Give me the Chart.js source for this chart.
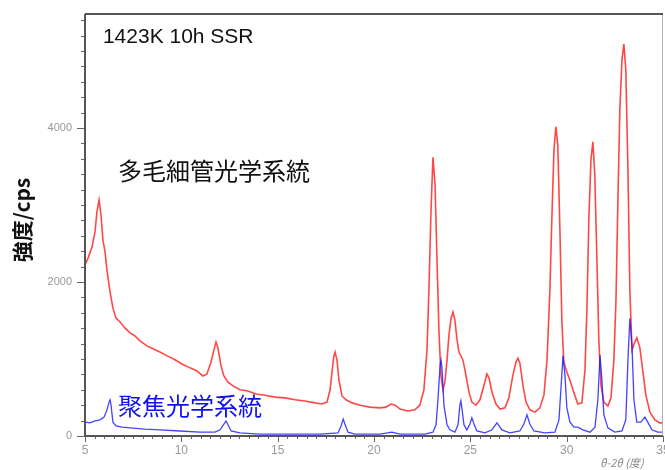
<!DOCTYPE html>
<html>
<head>
<meta charset="utf-8">
<script src="https://cdn.jsdelivr.net/npm/chart.js@4"></script>
<style>
  html, body { margin: 0; padding: 0; background: #fff; }
  canvas { display: block; }
</style>
</head>
<body>
<canvas id="xrd" width="665" height="470"></canvas>
<script>
// 2θ (deg) / intensity (cps)
const redX = [5.00, 5.16, 5.36, 5.52, 5.62, 5.73, 5.83, 5.93, 6.04, 6.14, 6.30, 6.45, 6.61, 6.82, 7.08, 7.34, 7.59, 7.85, 8.22, 8.63,
  8.89, 9.26, 9.67, 10.03, 10.45, 10.81, 11.12, 11.33, 11.54, 11.69, 11.80, 11.90, 12.06, 12.21, 12.42, 12.68, 13.04, 13.46, 13.87, 14.34,
  14.86, 15.38, 15.90, 16.42, 16.94, 17.30, 17.56, 17.72, 17.82, 17.92, 17.98, 18.08, 18.18, 18.34, 18.55, 18.86, 19.27, 19.79, 20.31, 20.62,
  20.88, 21.09, 21.35, 21.76, 22.12, 22.38, 22.59, 22.75, 22.85, 22.96, 23.06, 23.17, 23.27, 23.37, 23.47, 23.58, 23.68, 23.79, 23.89, 24.00,
  24.10, 24.20, 24.30, 24.41, 24.51, 24.62, 24.77, 24.93, 25.08, 25.29, 25.50, 25.71, 25.86, 25.97, 26.12, 26.33, 26.54, 26.80, 27.00, 27.21,
  27.37, 27.47, 27.57, 27.73, 27.89, 28.09, 28.35, 28.61, 28.82, 28.98, 29.13, 29.23, 29.34, 29.44, 29.54, 29.65, 29.75, 29.85, 30.01, 30.17,
  30.38, 30.58, 30.79, 30.95, 31.05, 31.15, 31.26, 31.36, 31.46, 31.57, 31.67, 31.78, 31.93, 32.14, 32.30, 32.45, 32.56, 32.66, 32.76, 32.87,
  32.97, 33.07, 33.18, 33.28, 33.39, 33.54, 33.64, 33.80, 33.96, 34.11, 34.32, 34.58, 34.84, 35.00];
const redY = [2220, 2310, 2450, 2650, 2910, 3065, 2870, 2545, 2390, 2155, 1870, 1660, 1530, 1480, 1400, 1340, 1300, 1235, 1170, 1120,
  1090, 1040, 990, 935, 885, 845, 780, 805, 960, 1115, 1220, 1145, 910, 780, 700, 650, 600, 585, 545, 530,
  505, 495, 470, 455, 430, 415, 440, 600, 830, 1040, 1090, 985, 725, 520, 470, 430, 400, 375, 365, 375,
  415, 400, 350, 325, 340, 400, 600, 1115, 1895, 2935, 3620, 3260, 2285, 1375, 790, 600, 700, 985, 1310, 1530,
  1610, 1505, 1270, 1090, 1040, 985, 790, 570, 440, 400, 470, 660, 805, 755, 570, 415, 350, 365, 495, 790,
  960, 1010, 950, 660, 440, 340, 310, 365, 530, 985, 1895, 2805, 3715, 4015, 3780, 2675, 1505, 960, 830, 725,
  560, 415, 430, 855, 1635, 2805, 3585, 3820, 3390, 2285, 1245, 660, 440, 390, 495, 985, 1765, 3065, 4235, 4885,
  5090, 4755, 3455, 1895, 1115, 1220, 1275, 1145, 830, 530, 310, 210, 170, 170];

const blueX = [5.00, 5.26, 5.52, 5.78, 5.99, 6.14, 6.25, 6.30, 6.35, 6.45, 6.61, 6.92, 7.34, 8.11, 8.89, 9.93, 10.97, 11.75, 12.01, 12.21,
  12.32, 12.42, 12.58, 13.04, 14.08, 15.64, 17.20, 18.13, 18.29, 18.40, 18.49, 18.65, 19.01, 20.31, 20.93, 21.35, 22.64, 23.06, 23.22, 23.32,
  23.43, 23.48, 23.53, 23.63, 23.79, 23.94, 24.20, 24.36, 24.46, 24.51, 24.56, 24.67, 24.82, 24.98, 25.08, 25.19, 25.34, 25.76, 26.12, 26.38,
  26.64, 27.05, 27.57, 27.78, 27.94, 28.09, 28.30, 28.87, 29.39, 29.60, 29.70, 29.81, 29.91, 30.01, 30.17, 30.38, 30.58, 30.84, 31.21, 31.47,
  31.62, 31.73, 31.83, 31.93, 32.14, 32.50, 32.87, 33.07, 33.18, 33.28, 33.39, 33.49, 33.64, 33.85, 34.06, 34.21, 34.42, 34.73, 35.00];
const blueY = [180, 170, 195, 210, 245, 340, 440, 470, 405, 180, 130, 115, 105, 90, 80, 65, 50, 50, 80, 155,
  195, 145, 65, 40, 25, 25, 25, 40, 130, 220, 155, 50, 25, 25, 50, 25, 25, 50, 145, 470,
  920, 985, 885, 400, 145, 80, 50, 145, 400, 455, 365, 145, 80, 155, 235, 155, 65, 40, 80, 170,
  80, 40, 65, 155, 275, 155, 65, 40, 50, 210, 600, 1040, 790, 365, 180, 115, 115, 80, 50, 115,
  470, 1050, 725, 275, 105, 50, 65, 210, 985, 1530, 1180, 470, 180, 180, 245, 180, 80, 50, 50];

const xTicks = [5, 10, 15, 20, 25, 30, 35];
const yTicks = [0, 2000, 4000];

const toPts = (xs, ys) => xs.map((x, i) => ({ x, y: ys[i] }));

const jp = '"Noto Sans CJK JP", sans-serif';
const lat = '"Liberation Sans", Arial, sans-serif';

// axis frame, minor ticks, titles and in-plot labels
const decor = {
  id: 'decor',
  afterDraw(chart) {
    const { ctx, chartArea: a, scales: { x, y } } = chart;
    ctx.save();

    // minor / major ticks
    ctx.strokeStyle = '#666';
    ctx.lineWidth = 1;
    ctx.beginPath();
    for (let v = 0; v <= 5400; v += 200) {
      const py = Math.round(y.getPixelForValue(v)) + 0.5;
      const len = v % 2000 === 0 ? 8 : 4;
      ctx.moveTo(a.left - len, py);
      ctx.lineTo(a.left, py);
    }
    for (let v = 5; v <= 35; v += 0.5) {
      const px = Math.round(x.getPixelForValue(v)) + 0.5;
      const len = v % 5 === 0 ? 6 : 3;
      ctx.moveTo(px, a.bottom);
      ctx.lineTo(px, a.bottom + len);
    }
    ctx.stroke();

    // frame
    ctx.strokeStyle = '#b0b0b0';
    ctx.beginPath();
    ctx.moveTo(a.right - 0.5, a.top);
    ctx.lineTo(a.right - 0.5, a.bottom);
    ctx.stroke();
    ctx.strokeStyle = '#555';
    ctx.lineWidth = 2;
    ctx.beginPath();
    ctx.moveTo(a.left, a.top);
    ctx.lineTo(a.right, a.top);
    ctx.moveTo(a.left, a.top);
    ctx.lineTo(a.left, a.bottom);
    ctx.lineTo(a.right, a.bottom);
    ctx.stroke();

    // texts inside the plot
    ctx.textBaseline = 'middle';
    ctx.textAlign = 'left';
    ctx.fillStyle = '#111';
    ctx.font = '21px ' + lat;
    ctx.fillText('1423K 10h SSR', x.getPixelForValue(5.93), y.getPixelForValue(5180));
    ctx.font = '24px ' + jp;
    ctx.fillText('多毛細管光学系統', x.getPixelForValue(6.71), y.getPixelForValue(3440));
    ctx.fillStyle = '#1010ee';
    ctx.fillText('聚焦光学系統', x.getPixelForValue(6.71), y.getPixelForValue(390));

    // x title
    ctx.fillStyle = '#888';
    ctx.font = 'italic 11px ' + jp;
    ctx.fillText('θ-2θ (度)', 600, 463);

    // y title
    ctx.translate(22, 220);
    ctx.rotate(-Math.PI / 2);
    ctx.textAlign = 'center';
    ctx.fillStyle = '#111';
    ctx.font = 'bold 21px ' + jp;
    ctx.fillText('強度/cps', 0, 0);
    ctx.restore();
  }
};

new Chart(document.getElementById('xrd'), {
  type: 'line',
  data: {
    datasets: [
      { label: '聚焦光学系統', data: toPts(blueX, blueY), borderColor: 'rgba(20,20,255,0.8)', borderWidth: 1.3, order: 0 },
      { label: '多毛細管光学系統', data: toPts(redX, redY), borderColor: 'rgba(255,0,0,0.72)', borderWidth: 1.6, order: 1 }
    ]
  },
  options: {
    responsive: false,
    animation: false,
    devicePixelRatio: 1,
    parsing: false,
    elements: { point: { radius: 0 }, line: { tension: 0 } },
    layout: { padding: { top: 14, right: 2, left: 0, bottom: 0 } },
    plugins: { legend: { display: false }, tooltip: { enabled: false } },
    scales: {
      x: {
        type: 'linear', min: 5, max: 35,
        afterBuildTicks: s => { s.ticks = xTicks.map(v => ({ value: v })); },
        afterFit: s => { s.height = 34; s.paddingLeft = 0; s.paddingRight = 0; },
        grid: { display: false, drawTicks: true, tickLength: 6 },
        border: { display: false },
        ticks: { color: '#999', font: { family: lat, size: 12 }, padding: 1, maxRotation: 0, autoSkip: false, callback: v => String(v) }
      },
      y: {
        min: 0, max: 5480,
        afterBuildTicks: s => { s.ticks = yTicks.map(v => ({ value: v })); },
        afterFit: s => { s.width = 85; s.paddingTop = 0; s.paddingBottom = 0; },
        grid: { display: false, drawTicks: true, tickLength: 8 },
        border: { display: false },
        ticks: { color: '#999', font: { family: lat, size: 11 }, padding: 5, callback: v => String(v) }
      }
    }
  },
  plugins: [decor]
});
</script>
</body>
</html>
